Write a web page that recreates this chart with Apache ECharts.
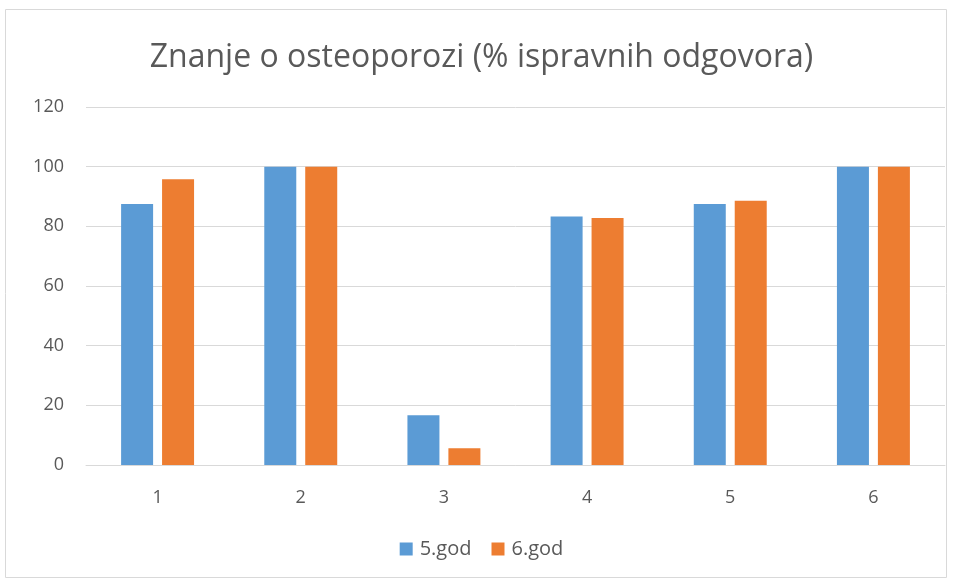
<!DOCTYPE html>
<html>
<head>
<meta charset="utf-8">
<script src="https://cdn.jsdelivr.net/npm/echarts@6/dist/echarts.min.js"></script>
<style>
  html, body { margin: 0; padding: 0; background: #fff; }
  #main { width: 963px; height: 582px; }
</style>
</head>
<body>
<div id="main"></div>
<script>
var categories = ['1', '2', '3', '4', '5', '6'];
var god5 = [87.5, 100, 16.7, 83.3, 87.5, 100];
var god6 = [95.8, 100, 5.6, 82.8, 88.6, 100];

var chart = echarts.init(document.getElementById('main'));

var option = {
    animation: false,
    textStyle: { fontFamily: 'Open Sans' },
    title: {
        text: 'Znanje o osteoporozi (% ispravnih odgovora)',
        left: 'center',
        top: 37,
        textStyle: { fontSize: 32, fontWeight: 'normal', color: '#595959', fontFamily: 'Open Sans' }
    },
    graphic: [{
        type: 'rect',
        shape: { x: 5.5, y: 9.5, width: 941, height: 568 },
        style: { fill: null, stroke: '#d9d9d9', lineWidth: 1 },
        silent: true
    }],
    legend: {
        data: ['5.god', '6.god'],
        bottom: 18,
        left: 'center',
        itemWidth: 13,
        itemHeight: 13,
        itemGap: 20,
        icon: 'rect',
        textStyle: { fontSize: 20, color: '#595959', padding: [0, 0, 0, 2] }
    },
    grid: {
        left: 86,
        right: 18,
        top: 107,
        bottom: 117
    },
    xAxis: {
        type: 'category',
        data: categories,
        axisLine: { lineStyle: { color: '#d9d9d9', width: 1 } },
        axisTick: { show: false },
        axisLabel: { fontSize: 18, color: '#595959', margin: 24 }
    },
    yAxis: {
        type: 'value',
        min: 0,
        max: 120,
        interval: 20,
        axisLine: { show: false },
        axisTick: { show: false },
        splitLine: { lineStyle: { color: '#d9d9d9', width: 1 } },
        axisLabel: { fontSize: 18, color: '#595959', margin: 22 }
    },
    series: [
        {
            name: '5.god',
            type: 'bar',
            data: god5,
            barWidth: 32,
            barGap: '28%',
            itemStyle: { color: '#5B9BD5' }
        },
        {
            name: '6.god',
            type: 'bar',
            data: god6,
            barWidth: 32,
            itemStyle: { color: '#ED7D31' }
        }
    ]
};

chart.setOption(option);
</script>
</body>
</html>
